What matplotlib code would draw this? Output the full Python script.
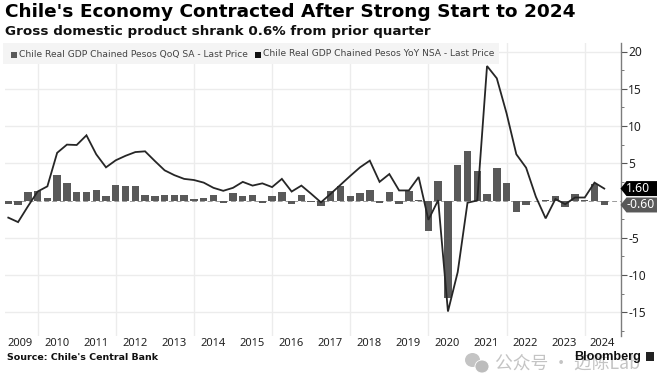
import matplotlib
matplotlib.use("Agg")
import matplotlib.pyplot as plt
from matplotlib.patches import Polygon, Rectangle, Ellipse
from matplotlib.transforms import IdentityTransform

title = "Chile's Economy Contracted After Strong Start to 2024"
subtitle = "Gross domestic product shrank 0.6% from prior quarter"
source = "Source: Chile's Central Bank"
legend_bar = "Chile Real GDP Chained Pesos QoQ SA - Last Price"
legend_line = "Chile Real GDP Chained Pesos YoY NSA - Last Price"
years = list(range(2009, 2025))
y_ticks = [-15, -10, -5, 5, 10, 15, 20]
y_minor = [-17.5, -12.5, -7.5, -2.5, 2.5, 7.5, 12.5, 17.5]

qoq = [-0.5, -0.6, 1.2, 1.3, 0.3, 3.4, 2.3, 1.2, 1.2, 1.4, 0.6, 2.1, 2.0, 1.9, 0.7, 0.6,
       0.8, 0.8, 0.7, 0.2, 0.3, 0.8, -0.4, 1.0, 0.6, 0.8, -0.3, 0.6, 1.1, -0.5, 0.7, -0.2,
       -0.7, 1.3, 1.9, 0.6, 1.0, 1.4, -0.3, 1.1, -0.5, 1.3, 0.05, -4.1, 2.6, -13.1, 4.7, 6.6,
       4.0, 0.9, 4.3, 2.3, -1.5, -0.6, -0.05, 0.05, 0.65, -0.9, 0.9, 0.05, 2.2, -0.6]
yoy = [-2.3, -2.9, -0.8, 1.2, 1.9, 6.4, 7.5, 7.45, 8.75, 6.2, 4.45, 5.4, 6.0, 6.5, 6.6, 5.3,
       4.05, 3.4, 2.9, 2.75, 2.4, 1.7, 1.3, 1.7, 2.5, 2.0, 2.3, 1.8, 2.9, 1.2, 2.0, 0.9,
       -0.25, 0.9, 2.1, 3.3, 4.45, 5.35, 2.5, 3.55, 1.35, 1.35, 3.15, -2.6, 0.05, -14.9, -9.6, -0.3,
       0.0, 18.05, 16.4, 11.7, 6.2, 4.4, 0.5, -2.4, 0.2, -0.5, 0.4, 0.4, 2.4, 1.6]

FONT = "DejaVu Sans"
TICKFONT = "Noto Sans"
BAR = "#595959"
LINE = "#262626"
GRID = "#ececec"
H = 390

fig = plt.figure(figsize=(6.6, 3.9), dpi=100, facecolor="white")
L, R, T, B = 5, 620.5, 43, 335.5
ax = fig.add_axes([L/660, 1 - B/H, (R - L)/660, (B - T)/H])
PX_Q, X0, PX_U, Y0 = 9.77, 8.3, 7.45, 200.5
ax.set_xlim((L - X0)/PX_Q, (R - X0)/PX_Q)
ax.set_ylim((Y0 - B)/PX_U, (Y0 - T)/PX_U)

x = list(range(len(qoq)))
ax.set_axisbelow(True)
for g in [3 + 8*k for k in range(8)]:
    ax.axvline(g, color=GRID, lw=1.0, zorder=0)
for g in y_ticks:
    ax.axhline(g, color=GRID, lw=1.0, zorder=0)
ax.axhline(0, color="#9a9a9a", lw=0.7, ls=(0, (5, 3)), zorder=1)
ax.bar(x, qoq, width=0.76, color=BAR, zorder=2)
ax.plot(x, yoy, color=LINE, lw=1.3, zorder=3, solid_joinstyle="miter")

for s in ["left", "top", "bottom"]:
    ax.spines[s].set_visible(False)
ax.spines["right"].set_color("#7c7c7c")
ax.spines["right"].set_linewidth(1.0)
ax.yaxis.tick_right()
ax.set_yticks(y_ticks)
ax.set_yticklabels([str(v) for v in y_ticks], fontsize=8.6, color="#222222", family=TICKFONT)
ax.set_yticks(y_minor, minor=True)
ax.tick_params(axis="y", which="major", length=4, width=0.8, color="#555555", pad=1.5)
ax.tick_params(axis="y", which="minor", length=2, width=0.7, color="#777777")
ax.set_xticks([])

label_px = [20, 57, 96, 135, 174, 213, 252, 291, 330, 369, 408, 447, 486, 525, 564, 602]
for p, yr in zip(label_px, years):
    fig.text(p/660, 1 - 343.5/H, str(yr), ha="center", va="center", fontsize=8.0, color="#222222", family=TICKFONT)

# header
fig.text(5/660, 1 - 12/H, title, ha="left", va="center", fontsize=13.3, fontweight="bold", color="black", family=FONT)
fig.text(5/660, 1 - 31/H, subtitle, ha="left", va="center", fontsize=9.7, fontweight="bold", color="#111111", family=FONT)

# legend band
fig.add_artist(Rectangle((3, H - 63.5), 496, 20.5, transform=IdentityTransform(), facecolor="#f4f4f4", edgecolor="none", zorder=1))
fig.add_artist(Rectangle((11, H - 57.5), 6, 6, transform=IdentityTransform(), facecolor=BAR, edgecolor="none", zorder=5))
fig.text(19/660, 1 - 54/H, legend_bar, ha="left", va="center", fontsize=6.6, color="#444444", family=FONT, zorder=5)
fig.add_artist(Rectangle((255, H - 57.5), 6, 6, transform=IdentityTransform(), facecolor="#111111", edgecolor="none", zorder=5))
fig.text(263/660, 1 - 54/H, legend_line, ha="left", va="center", fontsize=6.6, color="#444444", family=FONT, zorder=5)

# last value tags
def tag(v, txt, fc, fg, xc):
    yp = ax.transData.transform((0, v))[1]
    pts = [(R, yp), (R + 6, yp + 7.5), (657, yp + 7.5), (657, yp - 7.5), (R + 6, yp - 7.5)]
    fig.add_artist(Polygon(pts, closed=True, transform=IdentityTransform(), facecolor=fc, edgecolor="none", zorder=6))
    fig.text(xc/660, yp/H, txt, ha="center", va="center", fontsize=8.8, color=fg, family=TICKFONT, zorder=7)
tag(qoq[-1], "-0.60", "#595959", "white", 641)
tag(yoy[-1], "1.60", "black", "white", 638)

# footer
fig.text(7/660, 1 - 358/H, source, ha="left", va="center", fontsize=6.8, fontweight="bold", color="#111111", family=FONT)

# watermark
fig.add_artist(Ellipse((472.5, H - 360), 15, 14, transform=IdentityTransform(), facecolor="#c4c4c4", edgecolor="none", zorder=2))
fig.add_artist(Ellipse((482, H - 366.5), 14, 13, transform=IdentityTransform(), facecolor="#bcbcbc", edgecolor="white", lw=0.6, zorder=3))
fig.text(495/660, 1 - 364/H, "公众号 · 迈陈Lab", ha="left", va="center", fontsize=12.8, color="#c4c4c4",
         family=["Noto Sans CJK SC", "DejaVu Sans"], zorder=3)

fig.text(574/660, 1 - 357/H, "Bloomberg", ha="left", va="center", fontsize=9.1, fontweight="bold", color="#111111", family="Liberation Sans", zorder=8)
fig.add_artist(Rectangle((645.5, H - 361), 8, 9, transform=IdentityTransform(), facecolor="#222222", edgecolor="none", zorder=8))

fig.savefig("out.png", dpi=100)
